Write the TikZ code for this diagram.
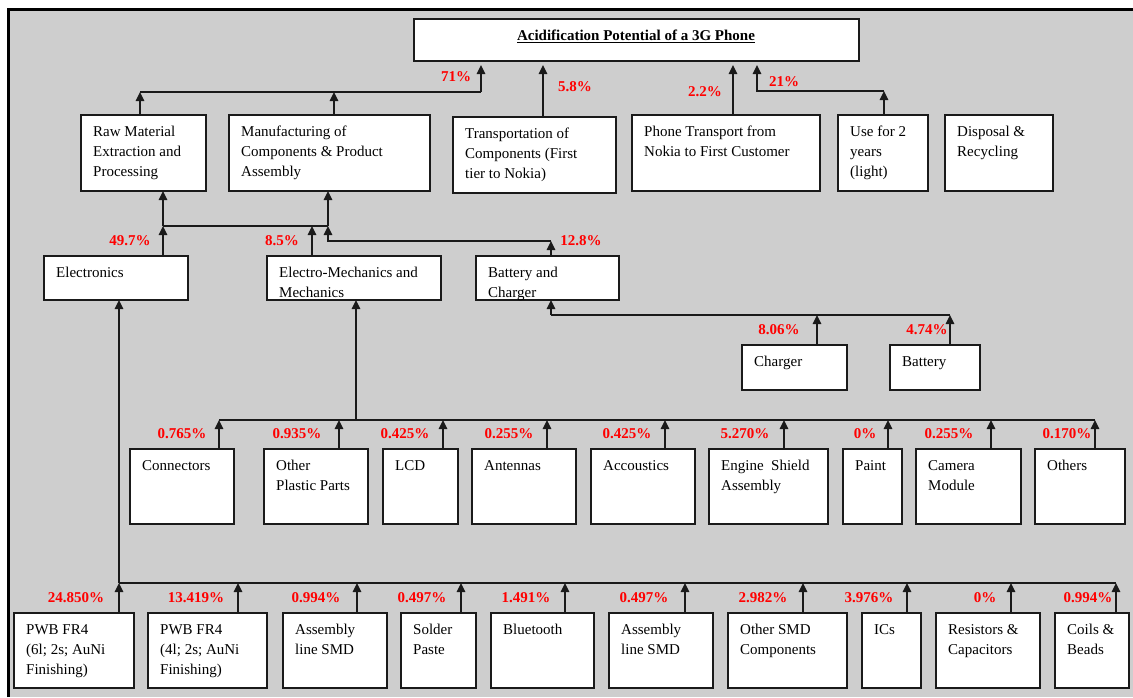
\documentclass[tikz,border=0pt]{standalone}
\usepackage{fontspec}
\setmainfont{Liberation Serif}
\usetikzlibrary{arrows.meta}
\definecolor{bg}{HTML}{CECECE}
\definecolor{pct}{HTML}{FF0000}
\definecolor{linec}{HTML}{1A1A1A}
\tikzset{
  boxst/.style={draw=linec, fill=white, line width=1.4pt, rectangle, inner sep=0pt, outer sep=0pt},
  txt/.style={align=left, inner sep=0pt, font=\fontsize{15}{20}\selectfont, text=black},
  pctst/.style={inner sep=0pt, font=\fontsize{15}{18}\selectfont\bfseries, text=pct},
  ln/.style={line width=1.4pt, draw=linec},
  arr/.style={ln, -{Triangle[width=8.5pt,length=9pt]}},
  gap/.style={shorten >=4pt}
}
\newcommand{\bx}[6]{%
  \node[boxst, minimum width={#4-#2}, minimum height={#5-#3}, anchor=north west] (#1) at (#2,#3) {};
  \node[txt, anchor=north west] (#1t) at ([shift={(12pt,-11pt)}]#1.north west) {#6};}
\newcommand{\pc}[4]{\node[pctst] (#1) at (#2,#3) {#4};}
\begin{document}
\begin{tikzpicture}[x=1pt,y=-1pt]
\useasboundingbox (0,0) rectangle (1133,697);
\fill[white] (0,0) rectangle (1133,697);
\fill[bg] (8,9) rectangle (1133,697);
\draw[line width=3pt] (8,697) -- (8,9) -- (1133,9);

% title
\node[boxst, minimum width=445, minimum height=42, anchor=north west] (title) at (414,19) {};
\node[inner sep=0pt, font=\fontsize{15}{18}\selectfont\bfseries] (titlet) at (636,36) {\underline{Acidification Potential of a 3G Phone}};

% level 1
\bx{raw}{81}{115}{206}{191}{Raw Material\\Extraction and\\Processing}
\bx{manu}{229}{115}{430}{191}{Manufacturing of\\Components \& Product\\Assembly}
\bx{trans}{453}{117}{616}{193}{Transportation of\\Components (First\\tier to Nokia)}
\bx{phone}{632}{115}{820}{191}{Phone Transport from\\Nokia to First Customer}
\bx{use}{838}{115}{928}{191}{Use for 2\\years\\(light)}
\bx{disp}{945}{115}{1053}{191}{Disposal \&\\Recycling}

% level 2
\bx{elec}{44}{256}{188}{300}{Electronics}
\bx{em}{267}{256}{441}{300}{Electro-Mechanics and\\Mechanics}
\bx{bat}{476}{256}{619}{300}{Battery and\\Charger}
\bx{chg}{742}{345}{847}{390}{Charger}
\bx{batt}{890}{345}{980}{390}{Battery}

% electro-mechanics children
\bx{conn}{130}{449}{234}{524}{Connectors}
\bx{opp}{264}{449}{368}{524}{Other\\Plastic Parts}
\bx{lcd}{383}{449}{458}{524}{LCD}
\bx{ant}{472}{449}{576}{524}{Antennas}
\bx{acc}{591}{449}{695}{524}{Accoustics}
\bx{esa}{709}{449}{828}{524}{Engine~~Shield\\Assembly}
\bx{paint}{843}{449}{902}{524}{Paint}
\bx{cam}{916}{449}{1021}{524}{Camera\\Module}
\bx{oth}{1035}{449}{1125}{524}{Others}

% electronics children
\bx{pwba}{14}{613}{134}{688}{PWB FR4\\(6l; 2s; AuNi\\Finishing)}
\bx{pwbb}{148}{613}{267}{688}{PWB FR4\\(4l; 2s; AuNi\\Finishing)}
\bx{asma}{283}{613}{387}{688}{Assembly\\line SMD}
\bx{sol}{401}{613}{476}{688}{Solder\\Paste}
\bx{bt}{491}{613}{594}{688}{Bluetooth}
\bx{asmb}{609}{613}{713}{688}{Assembly\\line SMD}
\bx{osmd}{728}{613}{847}{688}{Other SMD\\Components}
\bx{ics}{862}{613}{921}{688}{ICs}
\bx{rc}{936}{613}{1040}{688}{Resistors \&\\Capacitors}
\bx{cb}{1055}{613}{1129}{688}{Coils \&\\Beads}

% ---- connectors to title
\coordinate (t1) at (140,92);
\coordinate (t2) at (334,92);
\coordinate (t3) at (481,92);
\coordinate (t4) at (543,92);
\coordinate (t5) at (733,92);
\coordinate (u1) at (884,91);
\coordinate (u2) at (757,91);
\draw[ln] (t1) -- (t3);
\draw[arr] (raw.north -| t1) -- (t1);
\draw[arr] (manu.north -| t2) -- (t2);
\draw[arr,gap] (t3) -- (t3 |- title.south);
\draw[arr,gap] (trans.north -| t4) -- (t4 |- title.south);
\draw[arr,gap] (phone.north -| t5) -- (t5 |- title.south);
\draw[arr] (use.north -| u1) -- (u1);
\draw[arr,gap] (u1) -- (u2) -- (u2 |- title.south);
\pc{p71}{456}{77}{71\%}
\pc{p58}{575}{87}{5.8\%}
\pc{p22}{705}{92}{2.2\%}
\pc{p21}{784}{82}{21\%}

% ---- level 2 to level 1
\coordinate (a1) at (163,226);
\coordinate (a2) at (328,226);
\coordinate (a3) at (312,226);
\coordinate (b1) at (551,241);
\coordinate (b2) at (328,241);
\draw[ln] (a1) -- (a2);
\draw[arr] (a1) -- (raw.south -| a1);
\draw[arr] (a2) -- (manu.south -| a2);
\draw[arr] (elec.north -| a1) -- (a1);
\draw[arr] (em.north -| a3) -- (a3);
\draw[arr] (bat.north -| b1) -- (b1);
\draw[arr] (b1) -- (b2) -- (a2);
\pc{p497}{130}{241}{49.7\%}
\pc{p85}{282}{241}{8.5\%}
\pc{p128}{581}{241}{12.8\%}

% ---- battery & charger
\coordinate (c1) at (551,315);
\coordinate (c2) at (817,315);
\coordinate (c3) at (950,315);
\draw[ln] (c1) -- (c3);
\draw[arr] (c1) -- (bat.south -| c1);
\draw[arr] (chg.north -| c2) -- (c2);
\draw[arr] (batt.north -| c3) -- (c3);
\pc{p806}{779}{330}{8.06\%}
\pc{p474}{927}{330}{4.74\%}

% ---- electro-mechanics children
\coordinate (m0) at (356,420);
\coordinate (m1) at (219,420);
\coordinate (m2) at (339,420);
\coordinate (m3) at (443,420);
\coordinate (m4) at (547,420);
\coordinate (m5) at (665,420);
\coordinate (m6) at (784,420);
\coordinate (m7) at (888,420);
\coordinate (m8) at (991,420);
\coordinate (m9) at (1095,420);
\draw[ln] (m1) -- (m9);
\draw[arr] (m0) -- (em.south -| m0);
\draw[arr] (conn.north -| m1) -- (m1);
\draw[arr] (opp.north -| m2) -- (m2);
\draw[arr] (lcd.north -| m3) -- (m3);
\draw[arr] (ant.north -| m4) -- (m4);
\draw[arr] (acc.north -| m5) -- (m5);
\draw[arr] (esa.north -| m6) -- (m6);
\draw[arr] (paint.north -| m7) -- (m7);
\draw[arr] (cam.north -| m8) -- (m8);
\draw[arr] (oth.north -| m9) -- (m9);
\pc{q1}{182}{434}{0.765\%}
\pc{q2}{297}{434}{0.935\%}
\pc{q3}{405}{434}{0.425\%}
\pc{q4}{509}{434}{0.255\%}
\pc{q5}{627}{434}{0.425\%}
\pc{q6}{745}{434}{5.270\%}
\pc{q7}{865}{434}{0\%}
\pc{q8}{949}{434}{0.255\%}
\pc{q9}{1067}{434}{0.170\%}

% ---- electronics children
\coordinate (e1) at (119,583);
\coordinate (e2) at (238,583);
\coordinate (e3) at (357,583);
\coordinate (e4) at (461,583);
\coordinate (e5) at (565,583);
\coordinate (e6) at (685,583);
\coordinate (e7) at (803,583);
\coordinate (e8) at (907,583);
\coordinate (e9) at (1011,583);
\coordinate (e10) at (1116,583);
\draw[ln] (e1) -- (e10);
\draw[arr] (e1) -- (elec.south -| e1);
\draw[arr] (pwba.north -| e1) -- (e1);
\draw[arr] (pwbb.north -| e2) -- (e2);
\draw[arr] (asma.north -| e3) -- (e3);
\draw[arr] (sol.north -| e4) -- (e4);
\draw[arr] (bt.north -| e5) -- (e5);
\draw[arr] (asmb.north -| e6) -- (e6);
\draw[arr] (osmd.north -| e7) -- (e7);
\draw[arr] (ics.north -| e8) -- (e8);
\draw[arr] (rc.north -| e9) -- (e9);
\draw[arr] (cb.north -| e10) -- (e10);
\pc{r1}{76}{598}{24.850\%}
\pc{r2}{196}{598}{13.419\%}
\pc{r3}{316}{598}{0.994\%}
\pc{r4}{422}{598}{0.497\%}
\pc{r5}{526}{598}{1.491\%}
\pc{r6}{644}{598}{0.497\%}
\pc{r7}{763}{598}{2.982\%}
\pc{r8}{869}{598}{3.976\%}
\pc{r9}{985}{598}{0\%}
\pc{r10}{1088}{598}{0.994\%}
\end{tikzpicture}
\end{document}
